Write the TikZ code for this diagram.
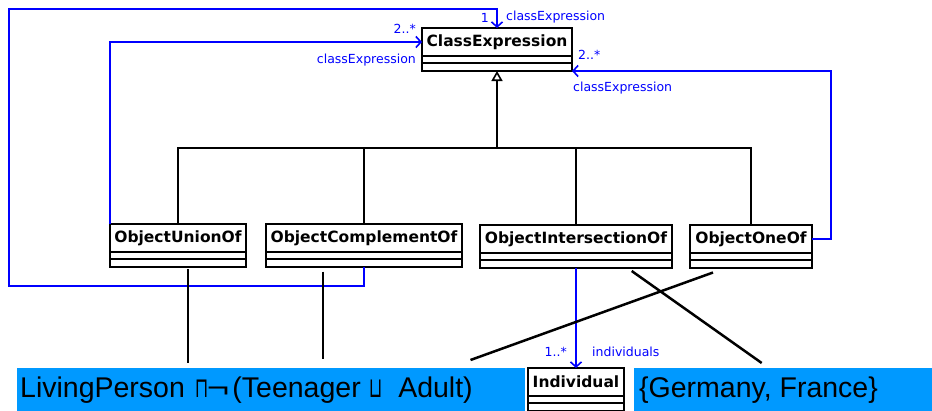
\documentclass[tikz,border=0pt]{standalone}
\usepackage{graphicx}
\usepackage{fontspec}
\setmainfont{Liberation Sans}
\newfontfamily\umlfont{DejaVu Sans}
\newfontfamily\symfont{DejaVu Sans}
\usetikzlibrary{arrows.meta}
\definecolor{assoc}{RGB}{0,0,255}
\definecolor{notefill}{RGB}{0,153,255}

% UML class: header with name, then empty attribute and operation compartments
\newcommand\umlclass[5]{%
  \node[classhead, minimum width=#4pt] (#1) at (#2,#3) {#5};
  \node[classcomp, minimum width=#4pt, minimum height=7pt] (#1-a) at (#1.south west) {};
  \node[classcomp, minimum width=#4pt, minimum height=8pt] (#1-m) at (#1-a.south west) {};
}
% narrow set-operator glyph, centred in a fixed-width slot
\newcommand\opsym[1]{\makebox[10pt][c]{\scalebox{0.62}[1]{\symfont\fontsize{28}{30}\selectfont #1}}}
\newcommand\widenot{\scalebox{1.35}[1]{¬}}

\begin{document}
\begin{tikzpicture}[x=1pt,y=-1pt,
  classhead/.style={draw, fill=white, line width=1.8pt, outer sep=0pt, inner sep=0pt,
    anchor=north west, minimum height=28pt,
    font=\umlfont\bfseries\fontsize{15.5}{18}\selectfont},
  classcomp/.style={draw, fill=white, line width=1.8pt, outer sep=0pt, inner sep=0pt,
    anchor=north west},
  gen/.style={line width=1.8pt},
  assocline/.style={draw=assoc, line width=1.8pt,
    -{Straight Barb[length=5pt,width=11pt,line width=1.6pt]}},
  lab/.style={text=assoc, inner sep=0pt, font=\umlfont\fontsize{12.5}{14}\selectfont},
  notebox/.style={fill=notefill, inner sep=0pt, outer sep=0pt, anchor=north west},
  notetext/.style={inner sep=0pt, font=\fontsize{28.5}{32}\selectfont},
  pointer/.style={line width=2.5pt}
]
\clip (0,0) rectangle (932,410);

% highlighted example expressions
\node[notebox, minimum width=508pt, minimum height=44pt] (exprbox) at (17,368) {};
\node[notebox, minimum width=300pt, minimum height=44pt] (setbox) at (634,368) {};
\node[notetext, anchor=base west] (expr) at (20,397)
  {LivingPerson\hspace{11.8pt}\opsym{⊓}\widenot\hspace{3.2pt}(Teenager\hspace{10pt}\opsym{⊔}\hspace{17.5pt}Adult)};
\node[notetext, anchor=base west] (set) at (639,397) {\{Germany, France\}};

% classes
\umlclass{ce}{422}{28}{150}{ClassExpression}
\umlclass{ou}{110}{224}{136}{ObjectUnionOf}
\umlclass{oc}{266}{224}{196}{ObjectComplementOf}
\umlclass{oi}{480}{225}{192}{ObjectIntersectionOf}
\umlclass{oo}{690}{225}{122}{ObjectOneOf}
\umlclass{ind}{528}{368}{96}{Individual}

% generalisation tree
\coordinate (bar) at (497,148);
\draw[gen, -{Triangle[open,length=10pt,width=11pt,line width=1.6pt]}] (bar) -- (ce-m.south);
\draw[gen] (ou.north) |- (bar);
\draw[gen] (oc.north) |- (bar);
\draw[gen] (oi.north) |- (bar);
\draw[gen] (oo.north) |- (bar);

% associations
\draw[assocline] (ou.north west) |- (ce.west);
\draw[assocline] (oo.east) -- ++(19,0) |- (ce-m.south east);
\draw[assocline] (oc-m.south) -- ++(0,19) -| (9,9) -| (ce.north);
\draw[assocline] (oi-m.south) -- (ind.north);

% association end labels
\node[lab, anchor=base east] (m1) at (489,22.5) {1};
\node[lab, anchor=base west] (r1) at (506,20.5) {classExpression};
\node[lab, anchor=base east] (m2) at (416,33) {2..*};
\node[lab, anchor=base east] (r2) at (416,63) {classExpression};
\node[lab, anchor=base west] (m3) at (578,59) {2..*};
\node[lab, anchor=base west] (r3) at (573,91.5) {classExpression};
\node[lab, anchor=base east] (m4) at (567,356.5) {1..*};
\node[lab, anchor=base west] (r4) at (592,356.5) {individuals};

% pointers from the expressions to the constructs
\coordinate (p1a) at (188,269);   \coordinate (p1b) at (188,363);
\coordinate (p2a) at (323,271.5); \coordinate (p2b) at (323,359);
\coordinate (p3a) at (713,272.5); \coordinate (p3b) at (470.5,360);
\coordinate (p4a) at (631.7,271); \coordinate (p4b) at (761.7,363);
\draw[pointer] (p1a) -- (p1b);
\draw[pointer] (p2a) -- (p2b);
\draw[pointer] (p3a) -- (p3b);
\draw[pointer] (p4a) -- (p4b);
\end{tikzpicture}
\end{document}
